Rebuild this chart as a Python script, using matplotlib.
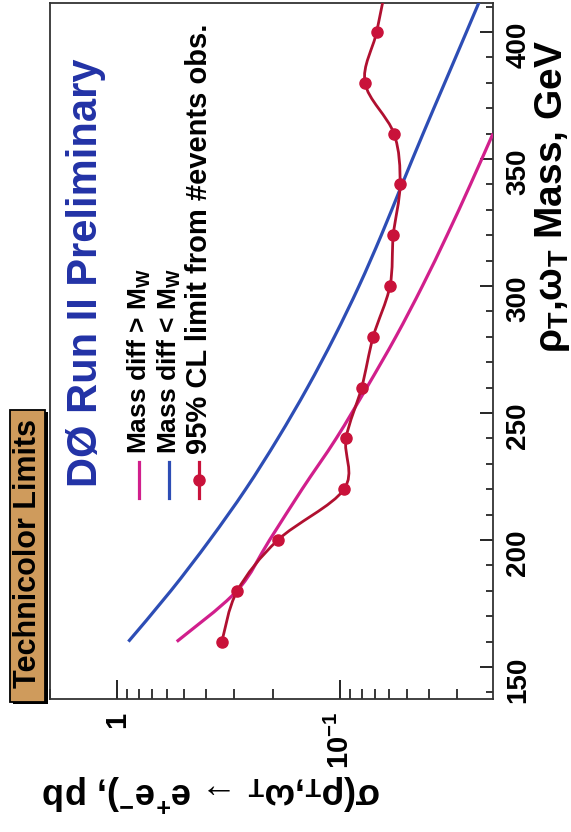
import numpy as np
import matplotlib.pyplot as plt
from matplotlib.path import Path
from matplotlib.patches import PathPatch, Rectangle
from matplotlib.ticker import MultipleLocator, LogLocator, NullFormatter

plt.rcParams['font.family'] = ['Liberation Sans', 'DejaVu Sans']
plt.rcParams['mathtext.fontset'] = 'custom'
plt.rcParams['mathtext.rm'] = 'Liberation Sans'
plt.rcParams['mathtext.bf'] = 'Liberation Sans:bold'
plt.rcParams['mathtext.it'] = 'Liberation Sans:italic'

# --- data: rho_T / omega_T -> e+e- cross sections (pb) vs mass (GeV) ---
mass_limit = [160, 180, 200, 220, 240, 260, 280, 300, 320, 340, 360, 380, 400, 420]
sigma_limit = [0.339, 0.289, 0.190, 0.096, 0.094, 0.080, 0.071, 0.0597,
               0.0577, 0.0538, 0.0573, 0.0773, 0.0685, 0.0617]

mass_heavy = [160, 180, 200, 220, 240, 260, 280, 300, 320, 340, 360]
sigma_heavy = [0.540, 0.290, 0.207, 0.148, 0.104, 0.0759, 0.0562, 0.0427,
               0.0331, 0.0260, 0.0206]

mass_light = [160, 180, 200, 220, 240, 260, 280, 300, 320, 340, 360, 380, 400, 420]
sigma_light = [0.890, 0.574, 0.384, 0.265, 0.190, 0.140, 0.106, 0.0822,
               0.0653, 0.0527, 0.0424, 0.0339, 0.0271, 0.0217]

mass_ticks = [150, 200, 250, 300, 350, 400]
sigma_ticks = [1, 0.1]
sigma_ticklabels = ['1', r'$\mathbf{10^{-1}}$']

PINK = '#d11f8c'
BLUE = '#2d4db5'
RED = '#c9123a'
RED_LINE = '#b01030'
TITLE_BLUE = '#2232a6'


def smooth_path(sig, mass):
    # Catmull-Rom through the points in (log sigma, mass), as cubic Bezier segments
    p = np.column_stack([np.log10(sig), np.asarray(mass, float)])
    ext = np.vstack([p[0], p, p[-1]])
    verts = [p[0]]
    codes = [Path.MOVETO]
    for i in range(len(p) - 1):
        c1 = ext[i + 1] + (ext[i + 2] - ext[i]) / 6.0
        c2 = ext[i + 2] - (ext[i + 3] - ext[i + 1]) / 6.0
        verts += [c1, c2, p[i + 1]]
        codes += [Path.CURVE4] * 3
    verts = np.array(verts)
    verts[:, 0] = 10 ** verts[:, 0]
    return Path(verts, codes)


fig = plt.figure(figsize=(5.71, 8.32), dpi=100)
ax = fig.add_axes([50 / 571, 1 - 699 / 832, 443 / 571, 696 / 832])

ax.set_xscale('log')
ax.set_xlim(2.0, 0.0206)
ax.set_ylim(137.4, 411.4)

ax.add_patch(PathPatch(smooth_path(sigma_light, mass_light), fill=False,
                       edgecolor=BLUE, lw=2.3, zorder=3))
ax.add_patch(PathPatch(smooth_path(sigma_heavy, mass_heavy), fill=False,
                       edgecolor=PINK, lw=2.3, zorder=3))
ax.add_patch(PathPatch(smooth_path(sigma_limit, mass_limit), fill=False,
                       edgecolor=RED_LINE, lw=2.0, zorder=4))
ax.plot(sigma_limit, mass_limit, 'o', ms=8, color=RED, mec=RED, zorder=5)

# axes: sigma along the bottom (inverted log), mass on the right
ax.yaxis.tick_right()
ax.xaxis.tick_bottom()
ax.set_yticks(mass_ticks)
ax.set_yticklabels([str(m) for m in mass_ticks])
ax.yaxis.set_minor_locator(MultipleLocator(10))
ax.set_xticks(sigma_ticks)
ax.set_xticklabels(sigma_ticklabels)
ax.xaxis.set_minor_locator(LogLocator(base=10, subs=np.arange(2, 10)))
ax.xaxis.set_minor_formatter(NullFormatter())

ax.tick_params(axis='y', which='major', direction='in', length=9.5, width=1.2,
               pad=9, labelsize=20, labelrotation=90)
ax.tick_params(axis='y', which='minor', direction='in', length=5, width=1.1)
ax.tick_params(axis='x', which='major', direction='in', length=14, width=1.2,
               pad=9, labelsize=21, labelrotation=90)
ax.tick_params(axis='x', which='minor', direction='in', length=7.5, width=1.1)
for lab in ax.get_xticklabels() + ax.get_yticklabels():
    lab.set_fontweight('bold')
for sp in ax.spines.values():
    sp.set_linewidth(1.3)
    sp.set_color('#333333')

# title and legend, written sideways
ax.text(0.0813, 0.305, 'DØ Run II Preliminary', transform=ax.transAxes,
        rotation=90, ha='center', va='bottom', fontsize=30,
        fontweight='bold', color=TITLE_BLUE)

legend_rows = [
    (0.2009, PINK, r'Mass diff > M$_\mathbf{W}$', 19, False),
    (0.2686, BLUE, r'Mass diff < M$_\mathbf{W}$', 19, False),
    (0.3363, RED, '95% CL limit from #events obs.', 21, True),
]
for xk, col, label, size, marker in legend_rows:
    ax.plot([xk, xk], [0.2888, 0.3405], transform=ax.transAxes, color=col,
            lw=2.3, clip_on=False, zorder=5)
    if marker:
        ax.plot([xk], [0.3147], 'o', transform=ax.transAxes, ms=8, color=col,
                clip_on=False, zorder=6)
    ax.text(xk, 0.352, label, transform=ax.transAxes, rotation=90,
            ha='center', va='bottom', fontsize=size, fontweight='bold',
            color='black')

# axis titles
fig.text(552 / 571, 1 - 197 / 832, r'ρ$_\mathbf{T}$,ω$_\mathbf{T}$ Mass, GeV',
         rotation=90, ha='center', va='center', fontsize=28, fontweight='bold')
fig.text(212 / 571, 1 - 793 / 832,
         r'σ(ρ$_\mathbf{T}$,ω$_\mathbf{T}$ → e$^\mathbf{+}$e$^\mathbf{-}$), pb',
         rotation=180, ha='center', va='center', fontsize=26, fontweight='bold')

# tag box on the left
fig.patches.append(Rectangle((13 / 571, 1 - 704 / 832), 35 / 571, 292 / 832,
                             transform=fig.transFigure, facecolor='black',
                             edgecolor='none', zorder=1))
fig.patches.append(Rectangle((10 / 571, 1 - 702 / 832), 35 / 571, 292 / 832,
                             transform=fig.transFigure, facecolor='#cf9b5c',
                             edgecolor='black', lw=1.3, zorder=2))
fig.text(28 / 571, 1 - 553 / 832, 'Technicolor Limits', rotation=90,
         ha='center', va='center', fontsize=22, fontweight='bold', zorder=3)

fig.savefig('out.png', dpi=100)
